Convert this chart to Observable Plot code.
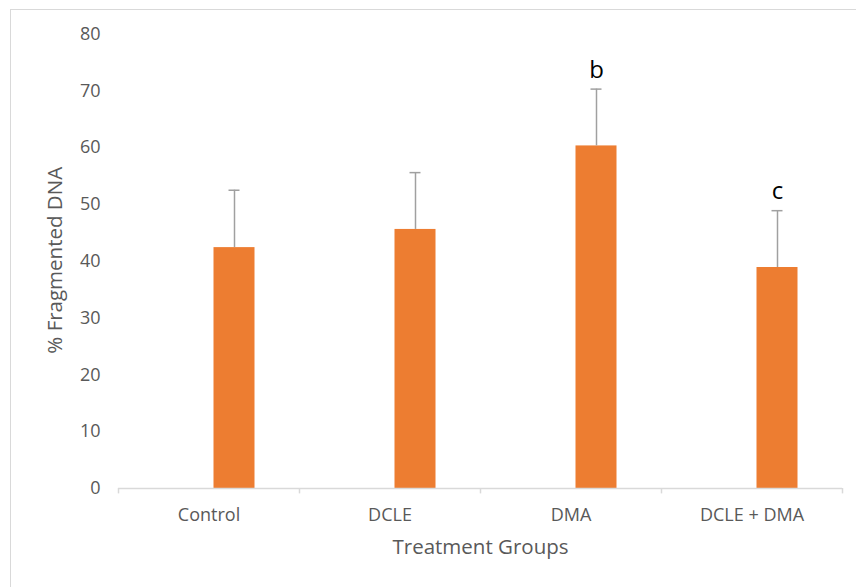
<!DOCTYPE html>
<html>
<head>
<meta charset="utf-8">
<script src="https://cdn.jsdelivr.net/npm/d3@7"></script>
<script src="https://cdn.jsdelivr.net/npm/@observablehq/plot@0.6"></script>
<style>
  html, body { margin: 0; padding: 0; background: #fff; }
  #wrap { position: relative; width: 856px; height: 587px; overflow: hidden; }
  #frame { position: absolute; left: 10px; top: 9px; width: 900px; height: 700px; border: 1.5px solid #d9d9d9; box-sizing: border-box; }
  #chart { position: absolute; left: 0; top: 0; }
</style>
</head>
<body>
<div id="wrap"><div id="frame"></div><div id="chart"></div></div>
<script>
const categories = ["Control", "DCLE", "DMA", "DCLE + DMA"];
const means = [42.4, 45.6, 60.3, 38.9];
const errors = [10.1, 10.0, 10.0, 10.0];
const letters = ["", "", "b", "c"];
const yTicks = [0, 10, 20, 30, 40, 50, 60, 70, 80];
const yLabel = "% Fragmented DNA";
const xLabel = "Treatment Groups";

const data = categories.map((c, i) => ({cat: c, mean: means[i], upper: means[i] + errors[i], letter: letters[i]}));

const font = "'Open Sans', sans-serif";
const offset = 25.5;
const half = 90.5;

const chart = Plot.plot({
  width: 856,
  height: 587,
  marginLeft: 118,
  marginRight: 14,
  marginTop: 33.5,
  marginBottom: 99,
  style: {fontFamily: font, background: "transparent", overflow: "visible"},
  x: {domain: categories, padding: 0, axis: null},
  y: {domain: [0, 80], axis: null},
  marks: [
    Plot.barY(data, {x: "cat", y: "mean", fill: "#ed7d31", insetLeft: 70, insetRight: 70, dx: offset}),
    Plot.ruleX(data, {x: "cat", y1: "mean", y2: "upper", stroke: "#a0a0a0", strokeWidth: 1.5, dx: offset}),
    Plot.tickY(data, {x: "cat", y: "upper", stroke: "#a0a0a0", strokeWidth: 1.5, insetLeft: 85, insetRight: 85, dx: offset}),
    Plot.text(data, {x: "cat", y: "upper", text: "letter", dx: offset, dy: -19, fontSize: 24, fill: "#000", fontFamily: font}),
    Plot.ruleY([0], {stroke: "#d9d9d9", strokeWidth: 1.5}),
    Plot.ruleX(categories, {x: d => d, y1: 0, y2: -0.95, stroke: "#d9d9d9", strokeWidth: 1.5, dx: -half}),
    Plot.ruleX([categories[categories.length - 1]], {x: d => d, y1: 0, y2: -0.95, stroke: "#d9d9d9", strokeWidth: 1.5, dx: half}),
    Plot.axisY({ticks: yTicks, tickSize: 0, tickPadding: 18, label: null, fontSize: 18, color: "#595959", tickFormat: d => d}),
    Plot.axisX({tickSize: 0, tickPadding: 20, label: null, fontSize: 18, color: "#595959"}),
    Plot.text([xLabel], {frameAnchor: "bottom", dy: 65, fontSize: 20.5, fill: "#595959", fontFamily: font}),
    Plot.text([yLabel], {frameAnchor: "left", textAnchor: "middle", dx: -63, dy: -1, rotate: -90, fontSize: 20.5, fill: "#595959", fontFamily: font})
  ]
});
document.getElementById("chart").appendChild(chart);
</script>
</body>
</html>
